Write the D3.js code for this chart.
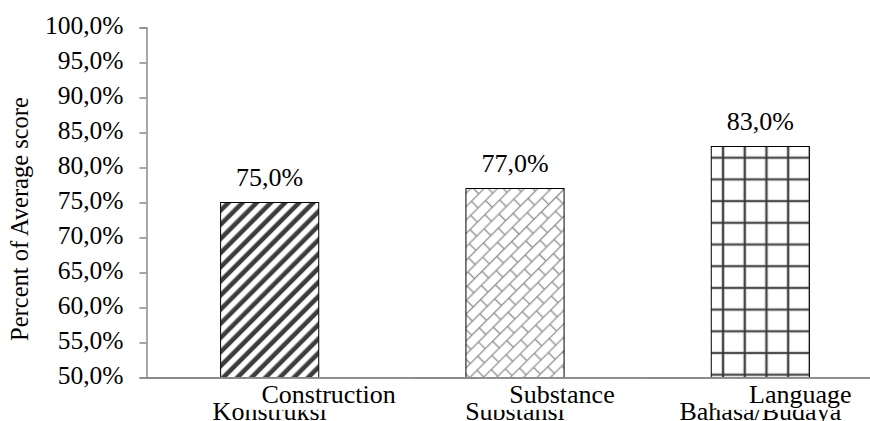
<!DOCTYPE html>
<html>
<head>
<meta charset="utf-8">
<script src="https://cdn.jsdelivr.net/npm/d3@7/dist/d3.min.js"></script>
<style>
  html, body { margin: 0; padding: 0; background: #fff; }
  svg { display: block; }
  text { font-family: "Liberation Serif", "Times New Roman", serif; fill: #000; }
</style>
</head>
<body>
<svg id="chart" width="870" height="421"></svg>
<script>
// Chart data
const categories = ["Konstruksi", "Substansi", "Bahasa/Budaya"];
const captions = ["Construction", "Substance", "Language"];
const scores = [0.75, 0.77, 0.83];
const yTicks = [0.50, 0.55, 0.60, 0.65, 0.70, 0.75, 0.80, 0.85, 0.90, 0.95, 1.00];
const yTitle = "Percent of Average score";

// Layout
const W = 870, H = 421;
const axisX = 146.5, axisY = 378;
const captionShift = [59, 47, 40];

const svg = d3.select("#chart");
const fmt = v => d3.format(".1f")(v * 100).replace(".", ",") + "%";

const x = d3.scaleBand()
  .domain(categories)
  .range([147, 883])
  .paddingInner(0.6)
  .paddingOuter(0.3);

const y = d3.scaleLinear()
  .domain([0.5, 1.0])
  .range([377.5, 27.5]);

// Fill patterns
const defs = svg.append("defs");

const soft = defs.append("filter").attr("id", "soft")
  .attr("x", "-20%").attr("y", "-20%").attr("width", "140%").attr("height", "140%");
soft.append("feGaussianBlur").attr("stdDeviation", 0.55);

// wide diagonal stripes
const stripes = defs.append("pattern")
  .attr("id", "pat-stripes")
  .attr("patternUnits", "userSpaceOnUse")
  .attr("width", 10).attr("height", 10)
  .attr("patternTransform", "rotate(45)");
stripes.append("rect").attr("width", 10).attr("height", 10).attr("fill", "#fff");
stripes.append("rect").attr("x", 2.5).attr("width", 4.6).attr("height", 10)
  .attr("fill", "#3c3c3c");

// diagonal brick
const brick = defs.append("pattern")
  .attr("id", "pat-brick")
  .attr("patternUnits", "userSpaceOnUse")
  .attr("width", 21).attr("height", 19)
  .attr("patternTransform", "rotate(-45)");
brick.append("rect").attr("width", 21).attr("height", 19).attr("fill", "#fff");
brick.append("path")
  .attr("d", "M0,0.7H21 M0,10.2H21 M2,0.7V10.2 M12.5,10.2V19")
  .attr("stroke", "#8e8e8e").attr("stroke-width", 1.3).attr("fill", "none");

// square grid
const barX3 = x(categories[2]);
const grid = defs.append("pattern")
  .attr("id", "pat-grid")
  .attr("patternUnits", "userSpaceOnUse")
  .attr("x", barX3 + 11.8).attr("y", y(scores[2]) + 11.2)
  .attr("width", 21.7).attr("height", 21.7);
grid.append("rect").attr("width", 21.7).attr("height", 21.7).attr("fill", "#fff");
grid.append("path")
  .attr("d", "M0,0H21.7 M0,0V21.7 M0,21.7H21.7 M21.7,0V21.7")
  .attr("stroke", "#b5b5b5").attr("stroke-width", 3.2).attr("fill", "none");
grid.append("path")
  .attr("d", "M0,0H21.7 M0,0V21.7 M0,21.7H21.7 M21.7,0V21.7")
  .attr("stroke", "#2e2e2e").attr("stroke-width", 1.6).attr("fill", "none");

const fills = ["url(#pat-stripes)", "url(#pat-brick)", "url(#pat-grid)"];

// Bars
const barG = svg.append("g");
barG.selectAll("rect.bar")
  .data(scores)
  .join("rect")
  .attr("class", "bar")
  .attr("x", (d, i) => x(categories[i]))
  .attr("y", d => y(d))
  .attr("width", x.bandwidth())
  .attr("height", d => y(0.5) - y(d))
  .attr("fill", (d, i) => fills[i])
  .attr("filter", (d, i) => i < 2 ? "url(#soft)" : null);

barG.selectAll("rect.outline")
  .data(scores)
  .join("rect")
  .attr("class", "outline")
  .attr("x", (d, i) => x(categories[i]))
  .attr("y", d => y(d))
  .attr("width", x.bandwidth())
  .attr("height", d => y(0.5) - y(d))
  .attr("fill", "none")
  .attr("stroke", "#000")
  .attr("stroke-width", 1);

// Value labels
svg.append("g").selectAll("text")
  .data(scores)
  .join("text")
  .attr("x", (d, i) => x(categories[i]) + x.bandwidth() / 2)
  .attr("y", d => y(d) - 17)
  .attr("text-anchor", "middle")
  .attr("font-size", 26)
  .text(d => fmt(d));

// Y axis
const yAxis = svg.append("g")
  .attr("transform", `translate(${axisX},0)`)
  .call(d3.axisLeft(y).tickValues(yTicks).tickSize(7).tickPadding(16).tickFormat(fmt));
yAxis.select(".domain").attr("stroke", "#8a8a8a").attr("stroke-width", 1.5);
yAxis.selectAll(".tick line").attr("stroke", "#8a8a8a").attr("stroke-width", 1.5);
yAxis.selectAll(".tick text")
  .attr("font-family", "Liberation Serif, Times New Roman, serif")
  .attr("font-size", 25.5)
  .attr("fill", "#000")
  .attr("dy", "0.25em");

// X axis with category names
const xAxis = svg.append("g")
  .attr("transform", `translate(0,${axisY})`)
  .call(d3.axisBottom(x).tickSize(0).tickPadding(0));
xAxis.select(".domain").remove();
xAxis.selectAll(".tick text")
  .attr("font-family", "Liberation Serif, Times New Roman, serif")
  .attr("font-size", 26)
  .attr("fill", "#000")
  .attr("y", 42)
  .attr("dy", 0);
svg.append("line")
  .attr("x1", axisX - 0.5).attr("x2", W)
  .attr("y1", axisY).attr("y2", axisY)
  .attr("stroke", "#8a8a8a").attr("stroke-width", 1.8);

// English captions on white boxes
const capG = svg.append("g");
const capX = i => x(categories[i]) + x.bandwidth() / 2 + captionShift[i];
capG.selectAll("rect")
  .data(captions)
  .join("rect")
  .attr("x", (d, i) => capX(i) - 84)
  .attr("y", axisY + 0.9)
  .attr("width", 168)
  .attr("height", 31)
  .attr("fill", "#fff");
capG.selectAll("text")
  .data(captions)
  .join("text")
  .attr("x", (d, i) => capX(i))
  .attr("y", 403)
  .attr("text-anchor", "middle")
  .attr("font-size", 26)
  .text(d => d);

// Y axis title
svg.append("text")
  .attr("transform", "translate(28,219) rotate(-90)")
  .attr("text-anchor", "middle")
  .attr("font-size", 24.5)
  .text(yTitle);
</script>
</body>
</html>
